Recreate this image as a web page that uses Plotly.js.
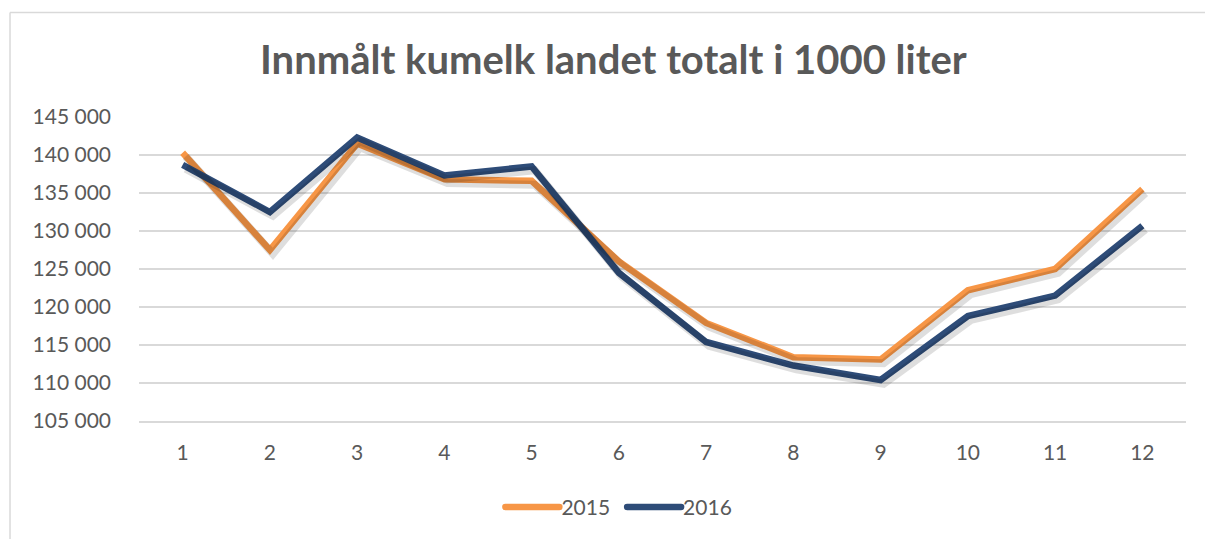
<!DOCTYPE html>
<html>
<head>
<meta charset="utf-8">
<script src="https://cdn.plot.ly/plotly-3.0.1.min.js"></script>
<style>html,body{margin:0;padding:0;background:#fff;}#chart{width:1205px;height:539px;}</style>
</head>
<body>
<div id="chart"></div>
<script>
const months = [1, 2, 3, 4, 5, 6, 7, 8, 9, 10, 11, 12];
const values2015 = [140300, 127500, 141500, 136800, 136600, 126000, 117900, 113400, 113100, 122200, 125000, 135500];
const values2016 = [138700, 132500, 142300, 137300, 138500, 124500, 115400, 112300, 110400, 118800, 121500, 130700];
const seriesNames = ["2015", "2016"];
const yTicks = [105000, 110000, 115000, 120000, 125000, 130000, 135000, 140000, 145000];
const titleText = "Innmålt kumelk landet totalt i 1000 liter";

const orange = "#F79646";
const blue = "#2E4C78";
const textGray = "#595959";
const fontFam = "Lato, 'Open Sans', sans-serif";

const shadow = "rgba(0,0,0,0.13)";
const traces = [
  {x: months, y: values2015, type: "scatter", mode: "lines", xaxis: "x2", yaxis: "y2",
   line: {color: shadow, width: 8}, showlegend: false, hoverinfo: "skip"},
  {x: months, y: values2016, type: "scatter", mode: "lines", xaxis: "x2", yaxis: "y2",
   line: {color: shadow, width: 8}, showlegend: false, hoverinfo: "skip"},
  {x: months, y: values2015, type: "scatter", mode: "lines", name: seriesNames[0],
   line: {color: orange, width: 6.5}},
  {x: months, y: values2016, type: "scatter", mode: "lines", name: seriesNames[1],
   line: {color: blue, width: 6.5}}
];

const layout = {
  width: 1205, height: 539,
  margin: {l: 139, r: 19, t: 117, b: 117},
  paper_bgcolor: "#ffffff", plot_bgcolor: "#ffffff",
  separators: ", ",
  font: {family: fontFam, color: textGray, size: 21},
  title: {text: titleText, font: {family: fontFam, size: 40, color: textGray, weight: "bold"},
          x: 0.509, xref: "container", xanchor: "center", y: 0.889, yref: "container", yanchor: "middle"},
  xaxis: {range: [0.5, 12.5], tickvals: months, ticktext: months.map(String), showgrid: false,
          zeroline: false, showline: true, linecolor: "#d9d9d9", linewidth: 2, ticks: "",
          ticklabelstandoff: 12, tickfont: {size: 21, color: textGray}, fixedrange: true},
  yaxis: {range: [105000, 145000], tickvals: yTicks, tickformat: ",d", showgrid: true,
          gridcolor: "#d9d9d9", gridwidth: 1.3, zeroline: false, showline: false, ticks: "",
          ticklabelstandoff: 27, tickfont: {size: 21, color: textGray}, fixedrange: true},
  xaxis2: {overlaying: "x", range: [0.5 - 3/87.2, 12.5 - 3/87.2], visible: false, fixedrange: true},
  yaxis2: {overlaying: "y", range: [105000 + 500, 145000 + 500], visible: false, fixedrange: true},
  showlegend: true,
  legend: {orientation: "h", x: 0.455, xanchor: "center", y: -0.28, yanchor: "middle",
           font: {size: 21, color: textGray}, itemwidth: 58, bgcolor: "rgba(0,0,0,0)"},
  shapes: [
    {type: "line", xref: "paper", yref: "paper", x0: -0.1232, x1: 1.1, y0: 1.344, y1: 1.344,
     line: {color: "#d9d9d9", width: 1.5}},
    {type: "line", xref: "paper", yref: "paper", x0: -0.1232, x1: -0.1232, y0: 1.344, y1: -0.5,
     line: {color: "#d9d9d9", width: 1.5}}
  ]
};

Plotly.newPlot("chart", traces, layout, {displayModeBar: false, staticPlot: true}).then(function (gd) {
  // lengthen the legend line samples to resemble the original legend keys
  gd.querySelectorAll(".legend .legendlines path").forEach(function (p) {
    p.setAttribute("d", "M12,0h54");
    p.style.strokeLinecap = "round";
  });
});
</script>
</body>
</html>
